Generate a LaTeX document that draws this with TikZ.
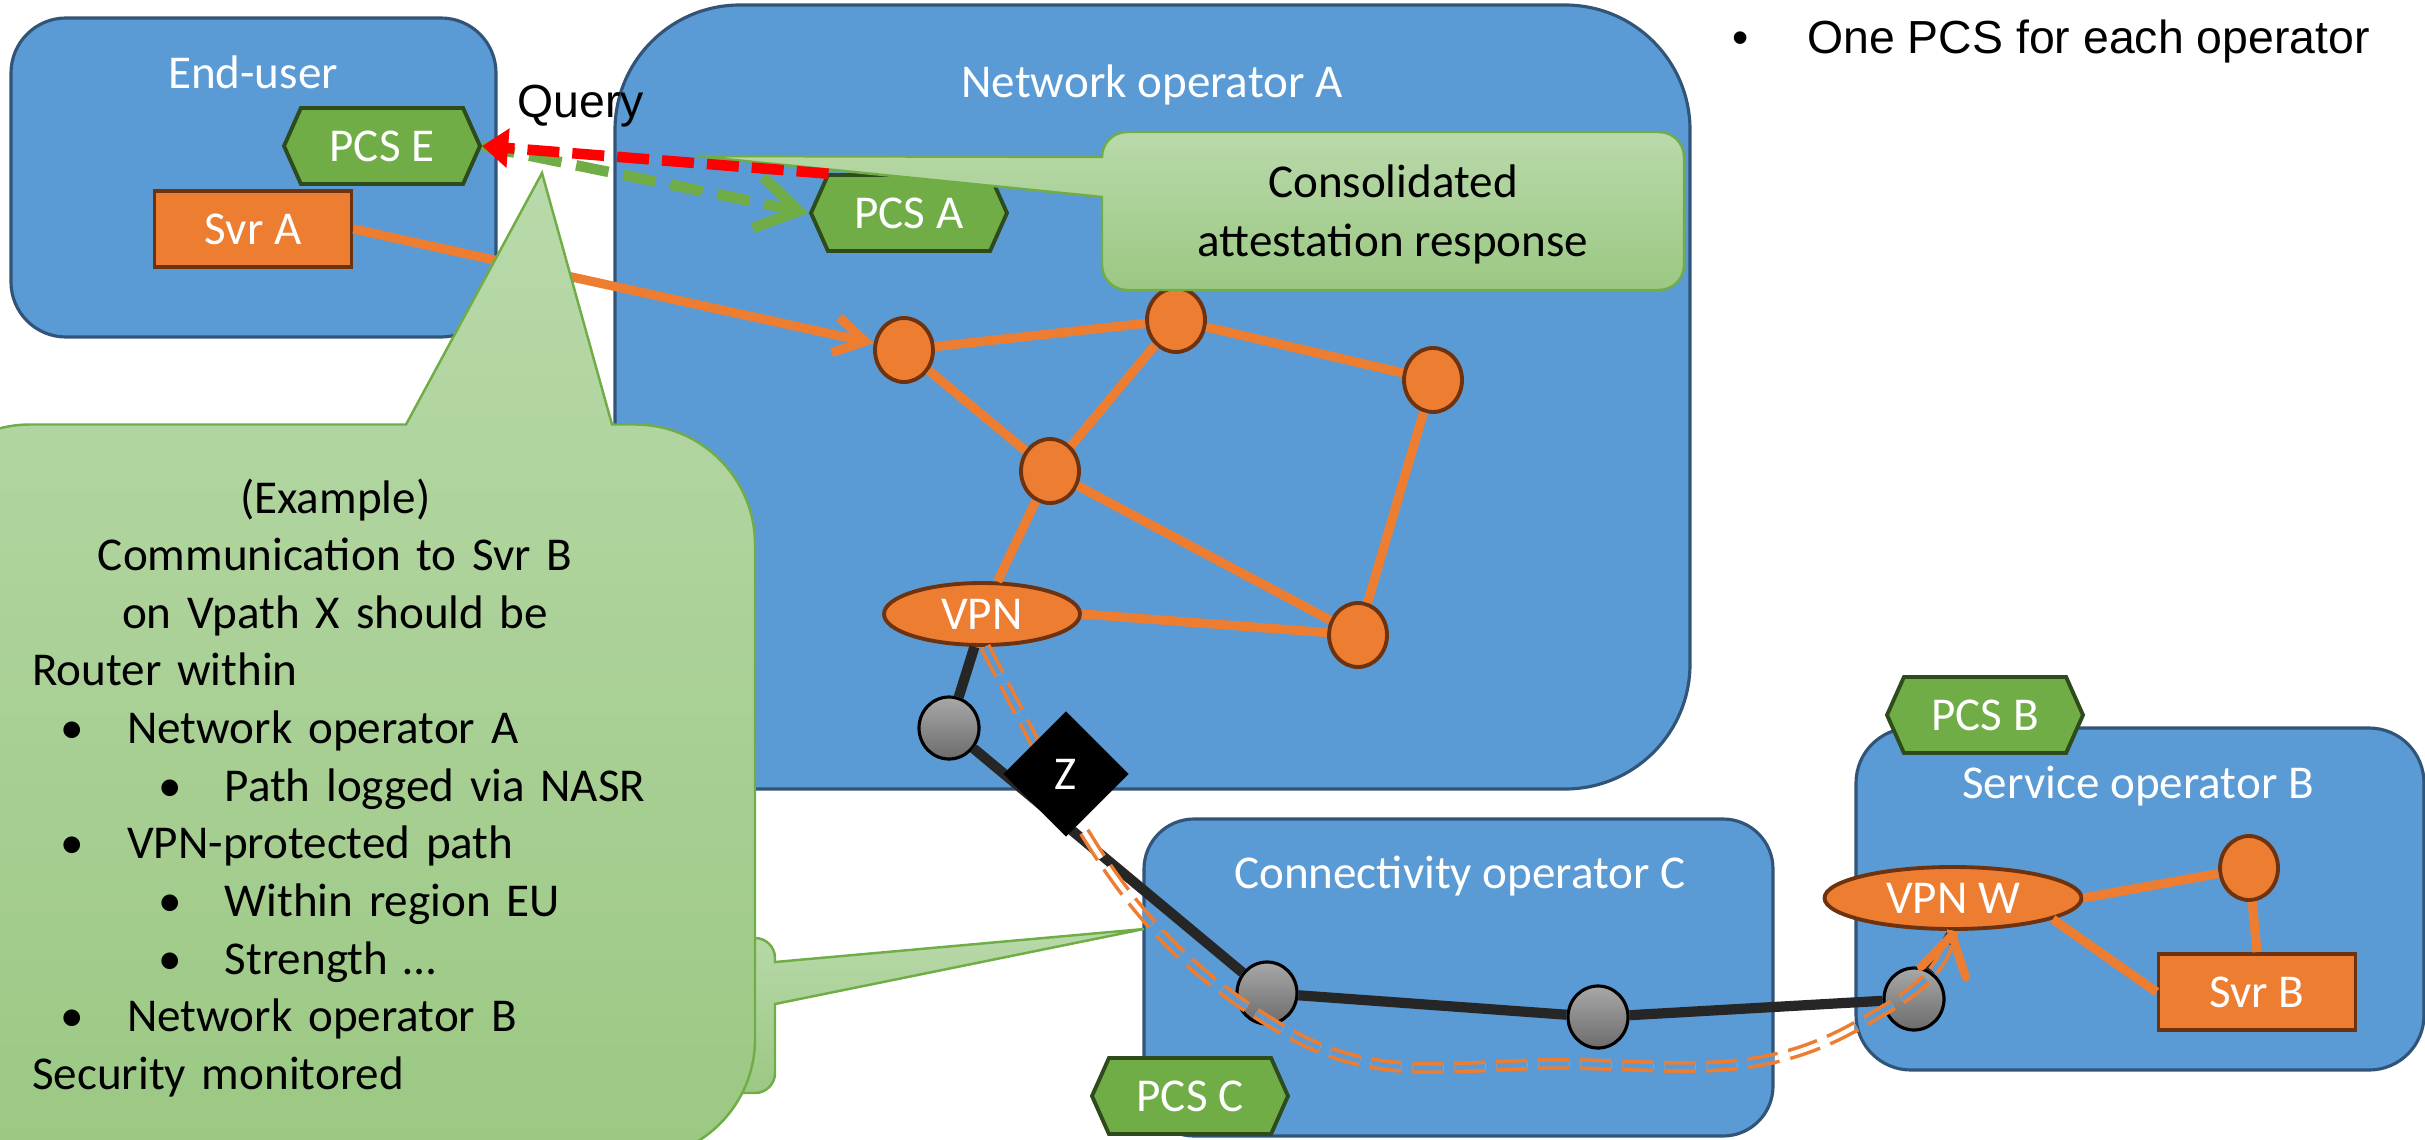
\documentclass[tikz,border=0pt]{standalone}
\usepackage{fontspec}
\setmainfont{Carlito}
\newfontfamily\arialfont{Liberation Sans}
\usetikzlibrary{shapes.geometric, shapes.symbols, arrows.meta, positioning}

\definecolor{boxblue}{RGB}{91,155,213}
\definecolor{boxedge}{RGB}{49,84,120}
\definecolor{orng}{RGB}{237,125,49}
\definecolor{orngedge}{RGB}{110,50,15}
\definecolor{pcsgreen}{RGB}{112,173,71}
\definecolor{pcsedge}{RGB}{45,75,28}
\definecolor{calltop}{RGB}{185,217,170}
\definecolor{callbot}{RGB}{155,200,131}
\definecolor{wireblack}{RGB}{38,38,38}
\definecolor{hoplight}{RGB}{168,168,168}
\definecolor{hopdark}{RGB}{108,108,108}

\newcommand\itemA{\hspace*{0.405cm}\makebox[0pt]{•}\hspace*{0.545cm}}
\newcommand\itemB{\hspace*{1.385cm}\makebox[0pt]{•}\hspace*{0.54cm}}

\begin{document}
\begin{tikzpicture}[
    every node/.style={font=\fontsize{13.4}{16.4}\selectfont},
    operator/.style={draw=boxedge, fill=boxblue, line width=0.9pt},
    optitle/.style={text=white, anchor=base},
    pcs/.style={signal, signal to=east and west, signal pointer angle=132, draw=pcsedge, fill=pcsgreen, line width=1.1pt, minimum width=1.96cm, minimum height=0.76cm, inner sep=0pt, text=white},
    server/.style={draw=orngedge, fill=orng, line width=1.1pt, minimum width=1.97cm, minimum height=0.76cm, text=white},
    router/.style={ellipse, draw=orngedge, fill=orng, line width=1.1pt, minimum width=0.58cm, minimum height=0.64cm, inner sep=0pt},
    vpn/.style={ellipse, draw=orngedge, fill=orng, line width=1.1pt, minimum height=0.62cm, inner sep=0pt, text=white},
    hop/.style={ellipse, draw=black, line width=0.9pt, top color=hoplight, bottom color=hopdark, minimum width=0.6cm, minimum height=0.62cm, inner sep=0pt},
    link/.style={orng, line width=2.6pt},
    wire/.style={wireblack, line width=2.9pt},
    vpath/.style={draw=orng, line width=1pt, double distance=1.3pt, dash pattern=on 0.31cm off 0.11cm},
    bubble/.style={draw=pcsgreen, line width=0.7pt, top color=calltop, bottom color=callbot},
    query/.style={line width=3pt}
]
\path[use as bounding box, clip] (0,0) rectangle (24.25,11.39);

% Operator domains
\node[operator, rounded corners=0.55cm, minimum width=4.85cm, minimum height=3.19cm] (enduser) at (2.535,9.615) {};
\node[operator, rounded corners=1.25cm, minimum width=10.75cm, minimum height=7.84cm] (opA) at (11.525,7.42) {};
\node[operator, rounded corners=0.5cm, minimum width=6.29cm, minimum height=3.17cm] (opC) at (14.585,1.615) {};
\node[operator, rounded corners=0.55cm, minimum width=5.68cm, minimum height=3.42cm] (opB) at (21.40,2.40) {};
\node[optitle] at (2.53,10.50) {End-user};
\node[optitle] at (11.52,10.42) {Network operator A};
\node[optitle] at (14.60,2.51) {Connectivity operator C};
\node[optitle] at (21.38,3.41) {Service operator B};

% PCS and servers
\node[pcs] (pcsE) at (3.82,9.93) {PCS E};
\node[pcs] (pcsA) at (9.09,9.26) {PCS A};
\node[pcs] (pcsB) at (19.85,4.24) {PCS B};
\node[pcs] (pcsC) at (11.90,0.43) {PCS C};
\node[server] (svrA) at (2.53,9.10) {Svr A};
\node[server] (svrB) at (22.57,1.47) {Svr B};

% Routers
\node[router] (a1) at (9.04,7.89) {};
\node[router] (a2) at (11.76,8.19) {};
\node[router] (a3) at (14.33,7.59) {};
\node[router] (a4) at (10.50,6.68) {};
\node[router] (a5) at (13.58,5.04) {};
\node[vpn, minimum width=1.96cm] (vpnA) at (9.82,5.25) {VPN};
\node[router] (b1) at (22.49,2.71) {};
\node[vpn, minimum width=2.57cm] (vpnW) at (19.53,2.41) {VPN W};

\draw[link] (a1) -- (a2) -- (a3) -- (a5);
\draw[link] (a1) -- (a4) -- (a2);
\draw[link] (a4) -- (a5);
\draw[link] (a4) -- (vpnA);
\draw[link] (vpnA.east) -- (a5);
\draw[link] (vpnW.east) -- (b1) -- (svrB.north);
\draw[link] (vpnW.-12) -- (svrB.west);
\draw[link, -{Straight Barb[length=0.3cm, width=0.36cm]}] (svrA.east) -- (a1);

% Physical hops
\node[hop] (h1) at (9.49,4.11) {};
\node[hop] (h2) at (12.67,1.46) {};
\node[hop] (h3) at (15.98,1.22) {};
\node[hop] (h4) at (19.14,1.40) {};
\draw[wire] (vpnA.257) -- (h1) -- (h2) -- (h3) -- (h4) -- (vpnW.south);

% Vpath X (core of the double line shows the background)
\draw[vpath, double=white] (vpnA.275) to[out=-62, in=150] (12.85,1.08) to[out=-30, in=180] (15.6,0.75) to[out=0, in=-150] (18.6,1.15) to[out=30, in=-105] (vpnW.south);
\begin{scope}
  \clip (opA.south west) rectangle (opA.north east) (opC.south west) rectangle (opC.north east) (opB.south west) rectangle (opB.north east);
  \draw[vpath, double=boxblue] (vpnA.275) to[out=-62, in=150] (12.85,1.08) to[out=-30, in=180] (15.6,0.75) to[out=0, in=-150] (18.6,1.15) to[out=30, in=-105] (vpnW.south);
\end{scope}
\coordinate (vtail) at (19.45,1.74);
\draw[orng, line width=2.4pt, shorten <=0.34cm, -{Straight Barb[length=0.38cm, width=0.46cm, round]}] (vtail) -- (vpnW.south);

\node[diamond, fill=black, minimum width=1.26cm, minimum height=1.26cm, inner sep=0pt, text=white] (zone) at (10.66,3.65) {Z};

% Example bubble
\path[bubble] (7.2,2.01) -- (7.55,2.01) arc[start angle=90, end angle=0, radius=0.2] -- (7.75,1.77) -- (11.44,2.10) -- (7.75,1.35) -- (7.75,0.66) arc[start angle=0, end angle=-90, radius=0.2] -- (7.2,0.46) -- cycle;
\path[bubble] (-0.9,-0.2) -- (-0.9,5.945) arc[start angle=180, end angle=90, radius=1.2] -- (4.06,7.145) -- (5.42,9.66) -- (6.12,7.145) -- (6.35,7.145) arc[start angle=90, end angle=0, radius=1.2] -- (7.55,1.0) arc[start angle=0, end angle=-90, radius=1.2] -- cycle;
\node[anchor=base west, text width=7cm, align=left, inner sep=0pt] (example) at (0.315,6.26) {%
  \makebox[6.06cm]{(Example)}\\
  \makebox[6.06cm]{Communication to Svr B}\\
  \makebox[6.06cm]{on Vpath X should be}\\
  Router within\\
  \itemA Network operator A\\
  \itemB Path logged via NASR\\
  \itemA VPN-protected path\\
  \itemB Within region EU\\
  \itemB Strength …\\
  \itemA Network operator B\\
  Security monitored};

% Consolidated response bubble
\path[bubble] (11.02,9.42) -- (11.02,8.74) arc[start angle=180, end angle=270, radius=0.25] -- (16.59,8.49) arc[start angle=-90, end angle=0, radius=0.25] -- (16.84,9.82) arc[start angle=0, end angle=90, radius=0.25] -- (11.27,10.07) arc[start angle=90, end angle=180, radius=0.25] -- (6.95,9.83) -- cycle;
\node[align=center, font=\fontsize{13.4}{16.6}\selectfont] (response) at (13.93,9.245) {Consolidated\\attestation response};

% Query and response
\draw[query, pcsgreen, dash pattern=on 0.33cm off 0.15cm, -{Straight Barb[length=0.42cm, width=0.52cm]}] (pcsE.east) -- (pcsA.west);
\draw[query, red, dash pattern=on 0.32cm off 0.13cm, -{Triangle[length=0.26cm, width=0.38cm]}] (pcsA.154) -- (pcsE.east);
\node[anchor=base, font=\arialfont\fontsize{13.2}{16}\selectfont] (query) at (5.805,10.22) {Query};

% Note
\node[anchor=base west, font=\arialfont\fontsize{13.2}{16}\selectfont] (note) at (17.95,10.86) {One PCS for each operator};
\node[base left=0.46cm of note, font=\arialfont\fontsize{13.2}{16}\selectfont, inner sep=0pt] {•};
\end{tikzpicture}
\end{document}
